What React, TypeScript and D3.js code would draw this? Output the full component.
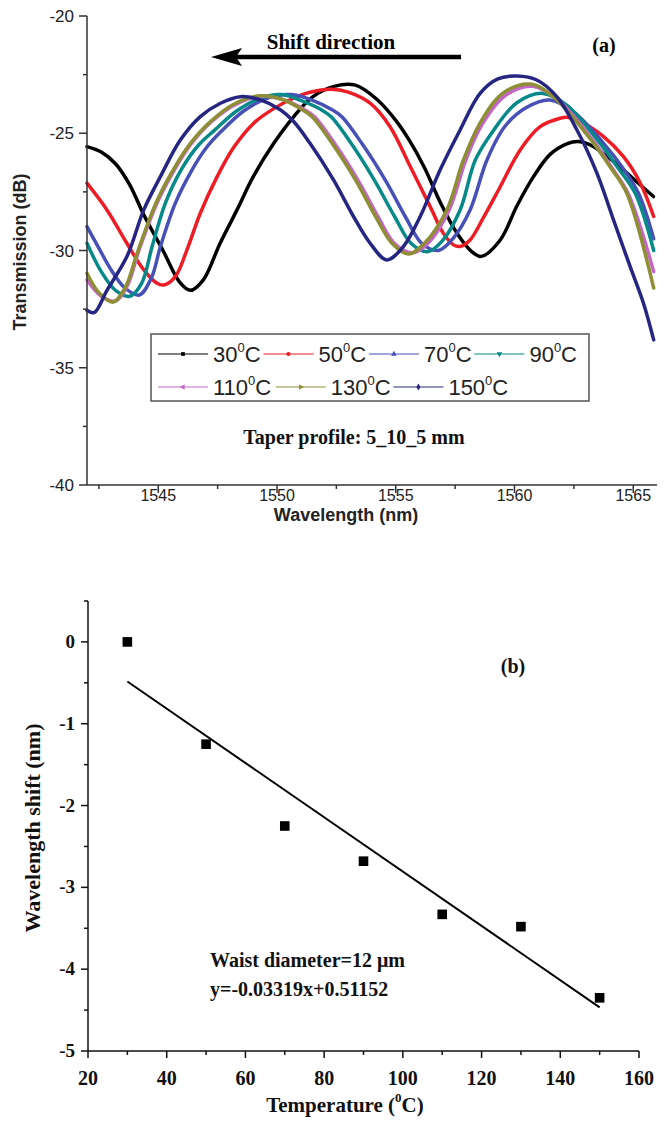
import React from 'react';
import * as d3 from 'd3';

type Pt = [number, number];

const temps = ['30', '50', '70', '90', '110', '130', '150'];
const colors = ['#000000', '#ee1c25', '#4650b6', '#07898a', '#c466c6', '#8e8e34', '#262682'];

const s30: Pt[] = [[1542.0,-25.57],[1542.6,-25.8],[1543.2,-26.3],[1543.8,-27.2],[1544.4,-28.5],[1545.2,-30.0],[1545.9,-31.35],[1546.35,-31.7],[1546.9,-31.25],[1547.6,-29.7],[1548.3,-28.3],[1549.0,-26.85],[1549.85,-25.45],[1550.7,-24.3],[1551.5,-23.45],[1552.4,-23.0],[1553.3,-22.95],[1554.2,-23.55],[1555.0,-24.45],[1555.6,-25.35],[1556.2,-26.45],[1556.9,-28.0],[1557.6,-29.3],[1558.2,-30.05],[1558.6,-30.25],[1559.4,-29.55],[1560.1,-28.1],[1560.8,-26.85],[1561.5,-25.9],[1562.2,-25.45],[1562.7,-25.35],[1563.2,-25.5],[1564.1,-26.15],[1564.9,-26.85],[1565.85,-27.7]];
const s50: Pt[] = [[1542.0,-27.13],[1542.84,-28.27],[1543.68,-29.69],[1544.39,-30.83],[1544.95,-31.4],[1545.23,-31.47],[1545.72,-31.11],[1546.21,-29.97],[1546.77,-28.41],[1547.48,-26.85],[1548.18,-25.6],[1549.02,-24.57],[1549.86,-23.95],[1550.6,-23.55],[1551.39,-23.25],[1552.3,-23.12],[1553.0,-23.25],[1553.92,-23.72],[1554.76,-24.72],[1555.61,-26.42],[1556.45,-28.13],[1557.0,-29.26],[1557.43,-29.76],[1557.7,-29.83],[1558.13,-29.55],[1558.69,-28.6],[1559.4,-27.28],[1560.24,-25.71],[1561.08,-24.72],[1561.92,-24.36],[1562.2,-24.32],[1562.77,-24.5],[1563.75,-25.14],[1564.59,-26.0],[1565.3,-27.13],[1565.86,-28.55]];
const s70: Pt[] = [[1542.0,-28.98],[1542.5,-29.9],[1543.0,-30.8],[1543.6,-31.6],[1544.2,-31.9],[1544.7,-31.2],[1545.1,-29.8],[1545.72,-27.98],[1546.4,-26.6],[1547.0,-25.65],[1547.62,-24.95],[1548.6,-24.05],[1549.6,-23.5],[1550.6,-23.35],[1551.5,-23.6],[1552.32,-24.0],[1552.73,-24.3],[1553.57,-25.43],[1554.56,-27.0],[1555.4,-28.55],[1556.1,-29.7],[1556.8,-30.0],[1557.4,-29.5],[1558.13,-28.27],[1558.84,-26.14],[1559.6,-24.7],[1560.5,-23.9],[1561.5,-23.58],[1562.5,-24.1],[1563.75,-25.43],[1564.5,-26.4],[1565.22,-27.56],[1565.86,-29.5]];
const s90: Pt[] = [[1542.0,-29.69],[1542.6,-30.9],[1543.2,-31.7],[1543.8,-31.95],[1544.3,-31.4],[1544.75,-29.8],[1545.3,-27.98],[1546.0,-26.5],[1546.7,-25.5],[1547.34,-24.9],[1548.3,-24.05],[1549.3,-23.5],[1550.2,-23.35],[1551.0,-23.6],[1551.87,-24.0],[1552.28,-24.3],[1553.12,-25.43],[1554.1,-27.0],[1554.95,-28.55],[1555.65,-29.7],[1556.35,-30.05],[1556.95,-29.6],[1557.71,-28.27],[1558.35,-26.14],[1559.1,-24.9],[1560.1,-23.7],[1561.2,-23.3],[1562.2,-23.8],[1563.6,-25.43],[1564.3,-26.4],[1565.08,-27.56],[1565.86,-30.0]];
const s110: Pt[] = [[1542.0,-31.25],[1542.6,-31.95],[1543.2,-32.15],[1543.7,-31.5],[1544.2,-29.95],[1544.95,-27.98],[1545.6,-26.7],[1546.35,-25.5],[1547.25,-24.5],[1548.3,-23.75],[1549.4,-23.42],[1550.3,-23.58],[1551.17,-24.0],[1551.58,-24.3],[1552.42,-25.43],[1553.41,-27.0],[1554.25,-28.55],[1554.95,-29.7],[1555.7,-30.1],[1556.35,-29.7],[1557.25,-28.27],[1557.95,-26.14],[1558.65,-24.6],[1559.6,-23.4],[1560.75,-23.0],[1561.8,-23.55],[1563.4,-25.43],[1564.05,-26.4],[1564.78,-27.56],[1565.86,-30.9]];
const s130: Pt[] = [[1542.0,-30.97],[1542.5,-31.8],[1543.1,-32.2],[1543.6,-31.6],[1544.15,-30.0],[1544.9,-27.98],[1545.55,-26.7],[1546.3,-25.5],[1547.2,-24.5],[1548.2,-23.75],[1549.3,-23.4],[1550.2,-23.55],[1551.07,-24.0],[1551.48,-24.3],[1552.32,-25.43],[1553.31,-27.0],[1554.15,-28.55],[1554.85,-29.7],[1555.55,-30.15],[1556.2,-29.7],[1557.15,-28.27],[1557.85,-26.14],[1558.55,-24.57],[1559.5,-23.3],[1560.66,-22.9],[1561.7,-23.5],[1563.33,-25.43],[1564.0,-26.4],[1564.73,-27.56],[1565.86,-31.6]];
const s150: Pt[] = [[1542.0,-32.55],[1542.3,-32.65],[1542.84,-31.7],[1543.68,-30.26],[1544.39,-28.27],[1545.09,-26.85],[1545.93,-25.29],[1546.77,-24.29],[1547.62,-23.72],[1548.46,-23.44],[1549.3,-23.58],[1550.14,-24.0],[1550.7,-24.5],[1551.39,-25.43],[1552.38,-26.99],[1553.22,-28.55],[1553.92,-29.69],[1554.62,-30.4],[1555.32,-29.83],[1556.03,-28.55],[1556.87,-26.56],[1557.71,-24.86],[1558.55,-23.3],[1559.3,-22.68],[1560.1,-22.56],[1560.94,-22.73],[1561.78,-23.44],[1562.63,-24.86],[1563.47,-26.7],[1564.17,-28.7],[1564.87,-30.69],[1565.43,-32.25],[1565.86,-33.81]];
const spectra: Pt[][] = [s30, s50, s70, s90, s110, s130, s150];

const wlMajor = [1545, 1550, 1555, 1560, 1565];
const wlMinor = [1542.5, 1547.5, 1552.5, 1557.5, 1562.5];
const dbMajor = [-40, -35, -30, -25, -20];
const dbMinor = [-37.5, -32.5, -27.5, -22.5];

const shiftTemps = [30, 50, 70, 90, 110, 130, 150];
const shiftValues = [0, -1.25, -2.25, -2.68, -3.33, -3.48, -4.35];
const fitSlope = -0.03319;
const fitIntercept = 0.51152;
const tMajor = [20, 40, 60, 80, 100, 120, 140, 160];
const tMinor = [30, 50, 70, 90, 110, 130, 150];
const sMajor = [-5, -4, -3, -2, -1, 0];
const sMinor = [-4.5, -3.5, -2.5, -1.5, -0.5, 0.5];

const SANS = '"Liberation Sans", Arial, sans-serif';
const SERIF = '"Liberation Serif", "Times New Roman", serif';
const symbols = [d3.symbolSquare, d3.symbolCircle, d3.symbolTriangle, d3.symbolTriangle, d3.symbolTriangle, d3.symbolTriangle, d3.symbolDiamond];
const symRot = [0, 0, 0, 180, -90, 90, 0];

export default function App() {
  const xA = d3.scaleLinear().domain([1542, 1566]).range([87, 657]);
  const yA = d3.scaleLinear().domain([-40, -20]).range([485, 16]);
  const line = d3.line<Pt>().x(d => xA(d[0])).y(d => yA(d[1])).curve(d3.curveCatmullRom.alpha(0.5));

  const xB = d3.scaleLinear().domain([20, 160]).range([88, 639]);
  const yB = d3.scaleLinear().domain([-5, 0.5]).range([1051, 601]);

  const axisCol = '#333';
  const lfs = 22;
  const charW = 0.556 * lfs;
  const rows = [[0, 1, 2, 3], [4, 5, 6]];
  const legendItems: { i: number; x: number; y: number }[] = [];
  rows.forEach((r, ri) => {
    let x = 158;
    r.forEach(i => {
      legendItems.push({ i, x, y: 354 + ri * 33 });
      const tw = temps[i].length * charW + 7 + 16;
      x += 50 + 6 + tw + 2;
    });
  });

  return (
    <svg width={667} height={1124} style={{ position: 'absolute', left: 0, top: 0, background: '#fff' }}>
      <rect x={0} y={0} width={667} height={1124} fill="#fff" />
      {/* ---------- Top chart ---------- */}
      <g>
        {spectra.map((s, i) => (
          <path key={i} d={line(s) || ''} fill="none" stroke={colors[i]} strokeWidth={3.5} strokeLinejoin="round" strokeLinecap="round" />
        ))}
        <line x1={87} x2={87} y1={yA(-20)} y2={yA(-40)} stroke={axisCol} strokeWidth={1.5} />
        <line x1={87} x2={657} y1={485} y2={485} stroke={axisCol} strokeWidth={1.5} />
        {dbMajor.map(v => (
          <g key={v}>
            <line x1={79} x2={87} y1={yA(v)} y2={yA(v)} stroke={axisCol} strokeWidth={1.5} />
            <text x={74} y={yA(v) + 6} textAnchor="end" fontFamily={SANS} fontSize={17} fill="#222">{v}</text>
          </g>
        ))}
        {dbMinor.map(v => (
          <line key={v} x1={83} x2={87} y1={yA(v)} y2={yA(v)} stroke={axisCol} strokeWidth={1.5} />
        ))}
        {wlMajor.map(v => (
          <g key={v}>
            <line x1={xA(v)} x2={xA(v)} y1={485} y2={493} stroke={axisCol} strokeWidth={1.5} />
            <text x={xA(v)} y={501} textAnchor="middle" fontFamily={SANS} fontSize={16} fill="#222">{v}</text>
          </g>
        ))}
        {wlMinor.map(v => (
          <line key={v} x1={xA(v)} x2={xA(v)} y1={485} y2={489} stroke={axisCol} strokeWidth={1.5} />
        ))}
        <text x={346} y={521} textAnchor="middle" fontFamily={SANS} fontWeight="bold" fontSize={18} fill="#222">Wavelength (nm)</text>
        <text transform="translate(26,252) rotate(-90)" textAnchor="middle" fontFamily={SANS} fontWeight="bold" fontSize={18} fill="#222">Transmission (dB)</text>

        <text x={331} y={49} textAnchor="middle" fontFamily={SERIF} fontWeight="bold" fontSize={21} fill="#000">Shift direction</text>
        <line x1={461} x2={232} y1={57} y2={57} stroke="#000" strokeWidth={4.5} />
        <path d="M211,57 L242,48 L236,57 L242,66 Z" fill="#000" />
        <text x={604} y={52} textAnchor="middle" fontFamily={SERIF} fontWeight="bold" fontSize={20} fill="#000">(a)</text>

        <rect x={151} y={334} width={438} height={67} fill="#fff" stroke="#555" strokeWidth={1.5} />
        {legendItems.map(({ i, x, y }) => (
          <g key={i}>
            <line x1={x} x2={x + 50} y1={y} y2={y} stroke={colors[i]} strokeWidth={1.2} />
            <path d={d3.symbol().type(symbols[i]).size(14)() || ''} transform={`translate(${x + 25},${y}) rotate(${symRot[i]})`} fill={colors[i]} />
            <text x={x + 55} y={y + 8} fontFamily={SANS} fontSize={lfs} fill="#222">
              {temps[i]}
              <tspan fontSize={13} dy={-10}>0</tspan>
              <tspan dy={10}>C</tspan>
            </text>
          </g>
        ))}
        <text x={354} y={444} textAnchor="middle" fontFamily={SERIF} fontWeight="bold" fontSize={20} fill="#111">Taper profile: 5_10_5 mm</text>
      </g>

      {/* ---------- Bottom chart ---------- */}
      <g>
        <line x1={88} x2={88} y1={yB(0.5)} y2={yB(-5)} stroke="#111" strokeWidth={1.5} />
        <line x1={88} x2={639} y1={yB(-5)} y2={yB(-5)} stroke="#111" strokeWidth={1.5} />
        {sMajor.map(v => (
          <g key={v}>
            <line x1={81} x2={88} y1={yB(v)} y2={yB(v)} stroke="#111" strokeWidth={1.5} />
            <text x={75} y={yB(v) + 6} textAnchor="end" fontFamily={SERIF} fontWeight="bold" fontSize={19} fill="#111">{v}</text>
          </g>
        ))}
        {sMinor.map(v => (
          <line key={v} x1={84} x2={88} y1={yB(v)} y2={yB(v)} stroke="#111" strokeWidth={1.5} />
        ))}
        {tMajor.map(v => (
          <g key={v}>
            <line x1={xB(v)} x2={xB(v)} y1={1051} y2={1058} stroke="#111" strokeWidth={1.5} />
            <text x={xB(v)} y={1085} textAnchor="middle" fontFamily={SERIF} fontWeight="bold" fontSize={20} fill="#111">{v}</text>
          </g>
        ))}
        {tMinor.map(v => (
          <line key={v} x1={xB(v)} x2={xB(v)} y1={1051} y2={1055} stroke="#111" strokeWidth={1.5} />
        ))}
        <text x={345} y={1112} textAnchor="middle" fontFamily={SERIF} fontWeight="bold" fontSize={21} fill="#111">
          Temperature (<tspan fontSize={13} dy={-10}>0</tspan><tspan dy={10}>C)</tspan>
        </text>
        <text transform="translate(40,828) rotate(-90)" textAnchor="middle" fontFamily={SERIF} fontWeight="bold" fontSize={22} fill="#111">Wavelength shift (nm)</text>

        <line x1={xB(30)} x2={xB(150)} y1={yB(fitSlope * 30 + fitIntercept)} y2={yB(fitSlope * 150 + fitIntercept)} stroke="#000" strokeWidth={2} />
        {shiftTemps.map((t, i) => (
          <rect key={t} x={xB(t) - 4.8} y={yB(shiftValues[i]) - 4.8} width={9.6} height={9.6} fill="#000" />
        ))}
        <text x={513} y={673} textAnchor="middle" fontFamily={SERIF} fontWeight="bold" fontSize={20} fill="#111">(b)</text>
        <text x={210} y={967} fontFamily={SERIF} fontWeight="bold" fontSize={20} fill="#111">Waist diameter=12 μm</text>
        <text x={210} y={996} fontFamily={SERIF} fontWeight="bold" fontSize={20} fill="#111">y=-0.03319x+0.51152</text>
      </g>
    </svg>
  );
}
